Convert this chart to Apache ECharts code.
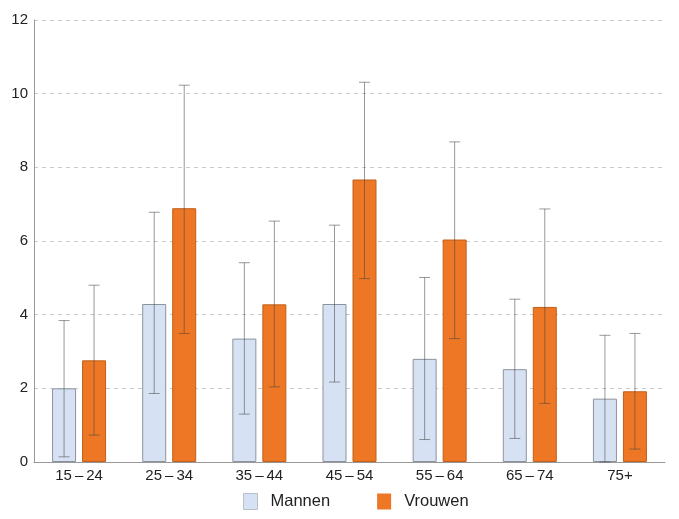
<!DOCTYPE html>
<html>
<head>
<meta charset="utf-8">
<script src="https://cdn.jsdelivr.net/npm/echarts@6/dist/echarts.min.js"></script>
<style>
  html, body { margin: 0; padding: 0; background: #fff; }
  #chart { width: 679px; height: 519px; }
</style>
</head>
<body>
<div id="chart"></div>
<script>
// categorieen en waarden
var categories = ["15\u2009\u2013\u200924", "25\u2009\u2013\u200934", "35\u2009\u2013\u200944", "45\u2009\u2013\u200954", "55\u2009\u2013\u200964", "65\u2009\u2013\u200974", "75+"];
var mannen = [2.0, 4.29, 3.35, 4.29, 2.8, 2.52, 1.72];
var mannenLaag = [0.14, 1.86, 1.3, 2.17, 0.61, 0.64, 0.0];
var mannenHoog = [3.84, 6.78, 5.41, 6.43, 5.01, 4.42, 3.44];
var vrouwen = [2.76, 6.89, 4.28, 7.67, 6.04, 4.21, 1.92];
var vrouwenLaag = [0.73, 3.49, 2.04, 4.98, 3.35, 1.59, 0.35];
var vrouwenHoog = [4.8, 10.23, 6.54, 10.31, 8.69, 6.87, 3.49];
var yTicks = [0, 2, 4, 6, 8, 10, 12];

var barW = 24;
var gapPx = 6;
var offset = (barW + gapPx) / 2;

var myChart = echarts.init(document.getElementById("chart"));

// foutbalken tekenen
function errorBar(shift) {
  return function (params, api) {
    var i = api.value(0);
    var lo = api.coord([i, api.value(1)]);
    var hi = api.coord([i, api.value(2)]);
    var x = lo[0] + shift;
    var cap = 5.5;
    var style = { stroke: "rgba(70,70,70,0.55)", lineWidth: 1 };
    return {
      type: "group",
      children: [
        { type: "line", shape: { x1: x, y1: lo[1], x2: x, y2: hi[1] }, style: style },
        { type: "line", shape: { x1: x - cap, y1: hi[1], x2: x + cap, y2: hi[1] }, style: style },
        { type: "line", shape: { x1: x - cap, y1: lo[1], x2: x + cap, y2: lo[1] }, style: style }
      ]
    };
  };
}

var option = {
  animation: false,
  grid: { left: 34, right: 14, top: 20, bottom: 57 },
  legend: {
    bottom: 4,
    left: 238,
    itemWidth: 14,
    itemHeight: 16,
    itemGap: 47,
    textStyle: { fontFamily: "Liberation Sans", fontSize: 16.5, color: "#222", padding: [0, 0, 0, 8] },
    data: [
      { name: "Mannen", icon: "rect", itemStyle: { color: "#d6e2f3", borderColor: "#b8c0cc", borderWidth: 1 } },
      { name: "Vrouwen", icon: "rect", itemStyle: { color: "#ee7725", borderWidth: 0 } }
    ]
  },
  xAxis: {
    type: "category",
    data: categories,
    axisTick: { show: false },
    axisLine: { lineStyle: { color: "#999" } },
    axisLabel: { fontFamily: "Liberation Sans", fontSize: 15, color: "#222", margin: 6 }
  },
  yAxis: {
    type: "value",
    min: 0,
    max: 12,
    interval: 2,
    axisLine: { show: true, lineStyle: { color: "#999" } },
    axisTick: { show: false },
    axisLabel: {
      fontFamily: "Liberation Sans", fontSize: 15, color: "#222", margin: 6,
      formatter: function (v) { return yTicks.indexOf(v) >= 0 ? String(v) : ""; }
    },
    splitLine: { lineStyle: { color: "#c8c8c8", type: [4, 4] } }
  },
  series: [
    {
      name: "Mannen",
      type: "bar",
      barWidth: barW,
      barGap: (gapPx / barW * 100) + "%",
      data: mannen,
      itemStyle: { color: "#d6e2f3", borderColor: "#8d939c", borderWidth: 1 }
    },
    {
      name: "Vrouwen",
      type: "bar",
      barWidth: barW,
      data: vrouwen,
      itemStyle: { color: "#ee7725", borderColor: "#c0601c", borderWidth: 1 }
    },
    {
      type: "custom",
      name: "Mannen fout",
      renderItem: errorBar(-offset),
      data: mannenLaag.map(function (v, i) { return [i, v, mannenHoog[i]]; }),
      encode: { x: 0, y: [1, 2] },
      z: 10,
      silent: true
    },
    {
      type: "custom",
      name: "Vrouwen fout",
      renderItem: errorBar(offset),
      data: vrouwenLaag.map(function (v, i) { return [i, v, vrouwenHoog[i]]; }),
      encode: { x: 0, y: [1, 2] },
      z: 10,
      silent: true
    }
  ]
};

myChart.setOption(option);
window.addEventListener("resize", function () {
  myChart.resize();
});
</script>
</body>
</html>
